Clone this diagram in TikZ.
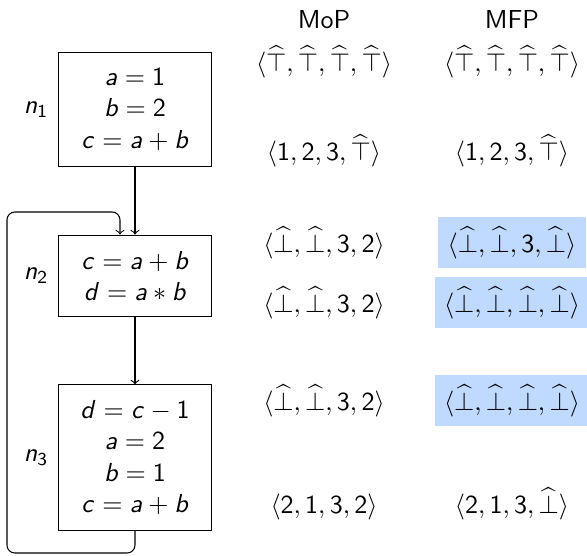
\documentclass[tikz,border=0pt]{standalone}
\usetikzlibrary{positioning}
% sans math: digits and operators from cmss, letters from slanted cmss
\SetSymbolFont{operators}{normal}{OT1}{cmss}{m}{n}
\DeclareSymbolFont{sansit}{OT1}{cmss}{m}{sl}
\DeclareMathSymbol{a}{\mathalpha}{sansit}{`a}
\DeclareMathSymbol{b}{\mathalpha}{sansit}{`b}
\DeclareMathSymbol{c}{\mathalpha}{sansit}{`c}
\DeclareMathSymbol{d}{\mathalpha}{sansit}{`d}
\DeclareMathSymbol{n}{\mathalpha}{sansit}{`n}
\definecolor{hlblue}{RGB}{191,217,255}
\tikzset{
  every node/.style={font=\sffamily},
  block/.style={draw,align=center,minimum width=59.2pt},
  val/.style={anchor=base,inner sep=3.6pt},
  hl/.style={val,fill=hlblue},
}
\newcommand{\tp}{\widehat{\top}}
\newcommand{\bt}{\widehat{\bot}}
\begin{document}
\begin{tikzpicture}[x=0.3846pt,y=-0.3846pt]
			\useasboundingbox (0,0) rectangle (587,556);
			% blocks
			\node[block,minimum height=43.5pt,label=left:$n_1$] (n1) at (135,109.5) {$a=1$\\$b=2$\\$c=a+b$};
			\node[block,minimum height=31.5pt,label=left:$n_2$] (n2) at (135,276) {$c=a+b$\\$d=a*b$};
			\node[block,minimum height=55.8pt,label=left:$n_3$] (n3) at (135,457.5) {$d=c-1$\\$a=2$\\$b=1$\\$c=a+b$};
			\coordinate (lpA) at (7,553);
			\coordinate (lpB) at (120,212);
			\draw[->] (n1) -- (n2);
			\draw[->] (n2) -- (n3);
			\draw[->,rounded corners=3pt] (n3.south) |- (lpA) |- (lpB) -- (lpB |- n2.north);
			% MoP column
			\node[val] (mop) at (324,28) {MoP};
			\node[val] (mop1) at (324,71.5) {$\langle\tp,\tp,\tp,\tp\rangle$};
			\node[val] (mop2) at (324,160) {$\langle 1,2,3,\tp\rangle$};
			\node[val] (mop3) at (324,252) {$\langle\bt,\bt,3,2\rangle$};
			\node[val] (mop4) at (324,312) {$\langle\bt,\bt,3,2\rangle$};
			\node[val] (mop5) at (324,410) {$\langle\bt,\bt,3,2\rangle$};
			\node[val] (mop6) at (324,513) {$\langle 2,1,3,2\rangle$};
			% MFP column
			\node[val] (mfp) at (512,28) {MFP};
			\node[val] (mfp1) at (512,71.5) {$\langle\tp,\tp,\tp,\tp\rangle$};
			\node[val] (mfp2) at (512,160) {$\langle 1,2,3,\tp\rangle$};
			\node[hl] (mfp3) at (512,252) {$\langle\bt,\bt,3,\bt\rangle$};
			\node[hl] (mfp4) at (512,312) {$\langle\bt,\bt,\bt,\bt\rangle$};
			\node[hl] (mfp5) at (512,410) {$\langle\bt,\bt,\bt,\bt\rangle$};
			\node[val] (mfp6) at (512,513) {$\langle 2,1,3,\bt\rangle$};
\end{tikzpicture}
\end{document}
